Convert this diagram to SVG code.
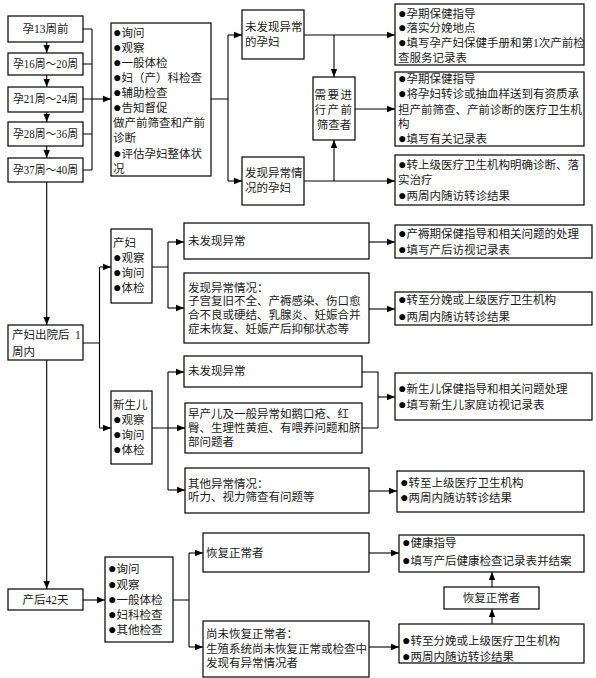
<svg xmlns="http://www.w3.org/2000/svg" width="596" height="678" viewBox="0 0 596 678">
<defs>
<style>
.b{fill:#fff;stroke:#000;stroke-width:1.2}
text{font-family:"Liberation Serif","Noto Sans CJK SC",serif;font-size:11.5px;fill:#1a1a1a}
.d{font-size:14px;fill:#000}
.c{text-anchor:middle}
.ln{fill:none;stroke:#000;stroke-width:1.1}
.ar{fill:none;stroke:#000;stroke-width:1.1;marker-end:url(#ah)}
</style>
<marker id="ah" markerWidth="8" markerHeight="8" viewBox="0 0 8 8" refX="8" refY="4" orient="auto" markerUnits="userSpaceOnUse"><path d="M0,0.8 L8,4 L0,7.2z" fill="#000"/></marker>
</defs>
<rect width="596" height="678" fill="#fff"/>

<g id="connectors">
<path class="ar" d="M46.7,42V53"/>
<path class="ar" d="M46.7,75V87"/>
<path class="ar" d="M46.7,112V122"/>
<path class="ar" d="M46.7,146V158"/>
<path class="ln" d="M83,29H92M83,64H92M83,99H92M83,134H92M83,170H92M92,29V170"/>
<path class="ar" d="M92,99H111"/>
<path class="ln" d="M211,99H228M228,35V181"/>
<path class="ar" d="M228,35H242"/>
<path class="ar" d="M228,181H242"/>
<path class="ar" d="M304,35H395"/>
<path class="ar" d="M334,35V77"/>
<path class="ar" d="M355,109H395"/>
<path class="ar" d="M304,181H395"/>
<path class="ar" d="M334,181V140"/>
<path class="ar" d="M46.7,182V325"/>
<path class="ln" d="M83,343H99.5M99.5,267V428"/>
<path class="ar" d="M99.5,267H111"/>
<path class="ar" d="M99.5,428H111"/>
<path class="ln" d="M152,267H168M168,242V308"/>
<path class="ar" d="M168,242H184"/>
<path class="ar" d="M168,308H184"/>
<path class="ar" d="M369,242H395"/>
<path class="ar" d="M369,309H395"/>
<path class="ln" d="M152,428H168M168,372V490"/>
<path class="ar" d="M168,372H184"/>
<path class="ar" d="M168,428H185"/>
<path class="ar" d="M168,490H185"/>
<path class="ln" d="M362,372H378V428M362,428H378"/>
<path class="ar" d="M378,397H395"/>
<path class="ar" d="M369,491H397"/>
<path class="ar" d="M46.7,360V589"/>
<path class="ar" d="M83,600H105"/>
<path class="ln" d="M173,600H189M189,553V647"/>
<path class="ar" d="M189,553H203"/>
<path class="ar" d="M189,647H203"/>
<path class="ar" d="M369,553H399"/>
<path class="ar" d="M369,647H399"/>
<path class="ar" d="M492,587V572"/>
<path class="ar" d="M492,624V609"/>
</g>

<g id="w13"><rect class="b" x="8" y="16" width="75" height="26"/><text class="c" x="45.5" y="33">孕13周前</text></g>
<g id="w16"><rect class="b" x="8" y="53" width="75" height="22"/><text x="13" y="68" textLength="65" lengthAdjust="spacingAndGlyphs">孕16周～20周</text></g>
<g id="w21"><rect class="b" x="8" y="87" width="75" height="25"/><text x="13" y="103" textLength="65" lengthAdjust="spacingAndGlyphs">孕21周～24周</text></g>
<g id="w28"><rect class="b" x="8" y="122" width="75" height="24"/><text x="13" y="138" textLength="65" lengthAdjust="spacingAndGlyphs">孕28周～36周</text></g>
<g id="w37"><rect class="b" x="8" y="158" width="75" height="24"/><text x="13" y="174" textLength="65" lengthAdjust="spacingAndGlyphs">孕37周～40周</text></g>

<g id="checklist"><rect class="b" x="111" y="23" width="100" height="153"/>
<text x="113" y="36.5"><tspan class="d">●</tspan>询问</text>
<text x="113" y="51.5"><tspan class="d">●</tspan>观察</text>
<text x="113" y="66.5"><tspan class="d">●</tspan>一般体检</text>
<text x="113" y="82"><tspan class="d">●</tspan>妇（产）科检查</text>
<text x="113" y="96.5"><tspan class="d">●</tspan>辅助检查</text>
<text x="113" y="112"><tspan class="d">●</tspan>告知督促</text>
<text x="113" y="127">做产前筛查和产前</text>
<text x="113" y="141.5">诊断</text>
<text x="113" y="158"><tspan class="d">●</tspan>评估孕妇整体状</text>
<text x="113" y="172.5">况</text>
</g>

<g id="normal-preg"><rect class="b" x="242" y="10" width="62" height="49"/>
<text x="245" y="31">未发现异常</text><text x="245" y="46">的孕妇</text></g>
<g id="screen"><rect class="b" x="313" y="77" width="42" height="63"/>
<text class="c" x="334" y="99" letter-spacing="1.5">需要进</text>
<text class="c" x="334" y="114" letter-spacing="1.5">行产前</text>
<text class="c" x="334" y="129">筛查者</text></g>
<g id="abn-preg"><rect class="b" x="242" y="157" width="62" height="48"/>
<text x="245" y="177">发现异常情</text><text x="245" y="192">况的孕妇</text></g>

<g id="r1"><rect class="b" x="395" y="4" width="189" height="61"/>
<text x="398" y="17.5"><tspan class="d">●</tspan>孕期保健指导</text>
<text x="398" y="31.5"><tspan class="d">●</tspan>落实分娩地点</text>
<text x="398" y="47"><tspan class="d">●</tspan>填写孕产妇保健手册和第1次产前检</text>
<text x="398" y="62">查服务记录表</text></g>
<g id="r2"><rect class="b" x="395" y="72" width="189" height="74"/>
<text x="398" y="83"><tspan class="d">●</tspan>孕期保健指导</text>
<text x="398" y="98"><tspan class="d">●</tspan>将孕妇转诊或抽血样送到有资质承</text>
<text x="398" y="114">担产前筛查、产前诊断的医疗卫生机</text>
<text x="398" y="128">构</text>
<text x="398" y="142.5"><tspan class="d">●</tspan>填写有关记录表</text></g>
<g id="r3"><rect class="b" x="395" y="155" width="189" height="50"/>
<text x="398" y="169"><tspan class="d">●</tspan>转上级医疗卫生机构明确诊断、落</text>
<text x="398" y="184">实治疗</text>
<text x="398" y="200"><tspan class="d">●</tspan>两周内随访转诊结果</text></g>

<g id="week1"><rect class="b" x="8" y="325" width="75" height="35"/>
<text x="12" y="339">产妇出院后</text><text x="75" y="339">1</text>
<text x="12" y="356">周内</text></g>

<g id="mother"><rect class="b" x="111" y="229" width="41" height="74"/>
<text x="113" y="247">产妇</text>
<text x="113" y="262"><tspan class="d">●</tspan>观察</text>
<text x="113" y="277"><tspan class="d">●</tspan>询问</text>
<text x="113" y="292"><tspan class="d">●</tspan>体检</text></g>
<g id="m-normal"><rect class="b" x="184" y="223" width="185" height="36"/>
<text x="188" y="245">未发现异常</text></g>
<g id="m-abn"><rect class="b" x="184" y="273" width="185" height="70"/>
<text x="188" y="292">发现异常情况：</text>
<text x="188" y="305">子宫复旧不全、产褥感染、伤口愈</text>
<text x="188" y="319">合不良或硬结、乳腺炎、妊娠合并</text>
<text x="188" y="332.5">症未恢复、妊娠产后抑郁状态等</text></g>
<g id="m-r1"><rect class="b" x="395" y="225" width="197" height="33"/>
<text x="398" y="238"><tspan class="d">●</tspan>产褥期保健指导和相关问题的处理</text>
<text x="398" y="254"><tspan class="d">●</tspan>填写产后访视记录表</text></g>
<g id="m-r2"><rect class="b" x="395" y="292" width="197" height="33"/>
<text x="398" y="304"><tspan class="d">●</tspan>转至分娩或上级医疗卫生机构</text>
<text x="398" y="321"><tspan class="d">●</tspan>两周内随访转诊结果</text></g>

<g id="baby"><rect class="b" x="111" y="391" width="41" height="73"/>
<text x="113" y="409">新生儿</text>
<text x="113" y="424"><tspan class="d">●</tspan>观察</text>
<text x="113" y="439"><tspan class="d">●</tspan>询问</text>
<text x="113" y="454"><tspan class="d">●</tspan>体检</text></g>
<g id="b-normal"><rect class="b" x="184" y="356" width="178" height="31"/>
<text x="188" y="375">未发现异常</text></g>
<g id="b-minor"><rect class="b" x="185" y="403" width="177" height="50"/>
<text x="188" y="418">早产儿及一般异常如鹅口疮、红</text>
<text x="188" y="432">臀、生理性黄疸、有喂养问题和脐</text>
<text x="188" y="446">部问题者</text></g>
<g id="b-other"><rect class="b" x="185" y="468" width="184" height="45"/>
<text x="188" y="488">其他异常情况：</text>
<text x="188" y="501">听力、视力筛查有问题等</text></g>
<g id="b-r1"><rect class="b" x="395" y="373" width="197" height="47"/>
<text x="398" y="393"><tspan class="d">●</tspan>新生儿保健指导和相关问题处理</text>
<text x="398" y="409"><tspan class="d">●</tspan>填写新生儿家庭访视记录表</text></g>
<g id="b-r2"><rect class="b" x="397" y="471" width="187" height="41"/>
<text x="400" y="487"><tspan class="d">●</tspan>转至上级医疗卫生机构</text>
<text x="400" y="502"><tspan class="d">●</tspan>两周内随访转诊结果</text></g>

<g id="day42"><rect class="b" x="8" y="589" width="75" height="21"/>
<text class="c" x="45.5" y="604">产后42天</text></g>
<g id="d-list"><rect class="b" x="105" y="557" width="68" height="85"/>
<text x="108" y="573"><tspan class="d">●</tspan>询问</text>
<text x="108" y="589"><tspan class="d">●</tspan>观察</text>
<text x="108" y="604"><tspan class="d">●</tspan>一般体检</text>
<text x="108" y="619"><tspan class="d">●</tspan>妇科检查</text>
<text x="108" y="634"><tspan class="d">●</tspan>其他检查</text></g>
<g id="d-ok"><rect class="b" x="203" y="533" width="166" height="39"/>
<text x="206" y="557">恢复正常者</text></g>
<g id="d-notok"><rect class="b" x="203" y="621" width="166" height="56"/>
<text x="206" y="638">尚未恢复正常者：</text>
<text x="206" y="653">生殖系统尚未恢复正常或检查中</text>
<text x="206" y="667">发现有异常情况者</text></g>
<g id="d-r1"><rect class="b" x="399" y="535" width="185" height="37"/>
<text x="402" y="547"><tspan class="d">●</tspan>健康指导</text>
<text x="402" y="565"><tspan class="d">●</tspan>填写产后健康检查记录表并结案</text></g>
<g id="d-rec"><rect class="b" x="444" y="587" width="95" height="22"/>
<text class="c" x="491.5" y="602">恢复正常者</text></g>
<g id="d-r2"><rect class="b" x="399" y="624" width="185" height="39"/>
<text x="402" y="645"><tspan class="d">●</tspan>转至分娩或上级医疗卫生机构</text>
<text x="402" y="661"><tspan class="d">●</tspan>两周内随访转诊结果</text></g>
</svg>
